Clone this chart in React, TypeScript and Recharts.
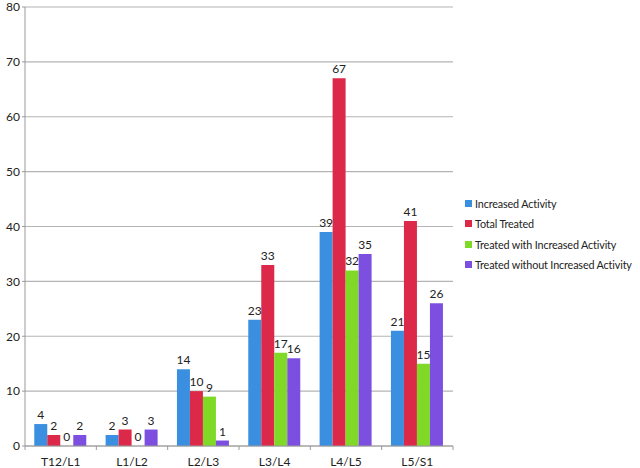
import React from 'react';
import { BarChart, Bar, XAxis, YAxis, CartesianGrid, LabelList } from 'recharts';

const levels = ['T12/L1', 'L1/L2', 'L2/L3', 'L3/L4', 'L4/L5', 'L5/S1'];
const increasedActivity = [4, 2, 14, 23, 39, 21];
const totalTreated = [2, 3, 10, 33, 67, 41];
const treatedWithIncreased = [0, 0, 9, 17, 32, 15];
const treatedWithoutIncreased = [2, 3, 1, 16, 35, 26];
const yTicks = [0, 10, 20, 30, 40, 50, 60, 70, 80];

const series = [
  { key: 'inc', name: 'Increased Activity', color: '#3b8fe0' },
  { key: 'tot', name: 'Total Treated', color: '#dc2849' },
  { key: 'withInc', name: 'Treated with Increased Activity', color: '#80d827' },
  { key: 'withoutInc', name: 'Treated without Increased Activity', color: '#7c4fe0' },
];

const data = levels.map((level, i) => ({
  level,
  inc: increasedActivity[i],
  tot: totalTreated[i],
  withInc: treatedWithIncreased[i],
  withoutInc: treatedWithoutIncreased[i],
}));

const FONT = 'Lato, "Open Sans", sans-serif';

const XTick = (props: any) => {
  const { x, y, payload, index, visibleTicksCount } = props;
  const half = payload.offset ?? 35.7;
  return (
    <g>
      <line x1={x - half} y1={y - 8} x2={x - half} y2={y - 4} stroke="#9a9a9a" />
      {index === visibleTicksCount - 1 && (
        <line x1={x + half} y1={y - 8} x2={x + half} y2={y - 4} stroke="#9a9a9a" />
      )}
      <text x={x} y={y + 12} textAnchor="middle" fontSize={12} fill="#222" fontFamily={FONT}>
        {payload.value}
      </text>
    </g>
  );
};

const ValueLabel = (props: any) => {
  const { x, y, width, value } = props;
  if (value === undefined || value === null) return null;
  return (
    <text x={x + width / 2} y={y - 5} textAnchor="middle" fontSize={12} fill="#222" fontFamily={FONT}>
      {value}
    </text>
  );
};

export default function App() {
  return (
    <div style={{ position: 'absolute', left: 0, top: 0, width: 640, height: 468, background: '#fff' }}>
      <BarChart
        width={640}
        height={468}
        data={data}
        margin={{ top: 7, right: 187, bottom: 0, left: 0 }}
        barCategoryGap="13%"
        barGap={0}
      >
        <CartesianGrid vertical={false} stroke="#b4b4b4" strokeWidth={1.2} />
        <XAxis
          dataKey="level"
          height={22}
          tickLine={false}
          axisLine={{ stroke: '#9a9a9a' }}
          tick={<XTick />}
          interval={0}
        />
        <YAxis
          width={25}
          domain={[0, 80]}
          ticks={yTicks}
          tickSize={3}
          tickLine={{ stroke: '#9a9a9a' }}
          axisLine={{ stroke: '#9a9a9a' }}
          tick={{ fontSize: 12, fill: '#222', fontFamily: FONT }}
          interval={0}
        />
        {series.map((s) => (
          <Bar
            key={s.key}
            dataKey={s.key}
            name={s.name}
            fill={s.color}
            minPointSize={0.01}
            isAnimationActive={false}
          >
            <LabelList dataKey={s.key} content={<ValueLabel />} />
          </Bar>
        ))}
      </BarChart>
      <div
        style={{
          position: 'absolute',
          left: 465,
          top: 193,
          fontFamily: FONT,
          fontSize: 10.8,
          letterSpacing: -0.15,
          color: '#222',
          whiteSpace: 'nowrap',
        }}
      >
        {series.map((s) => (
          <div key={s.key} style={{ display: 'flex', alignItems: 'center', height: 20.5 }}>
            <span style={{ width: 7, height: 7, background: s.color, marginRight: 3, display: 'inline-block' }} />
            <span>{s.name}</span>
          </div>
        ))}
      </div>
    </div>
  );
}
